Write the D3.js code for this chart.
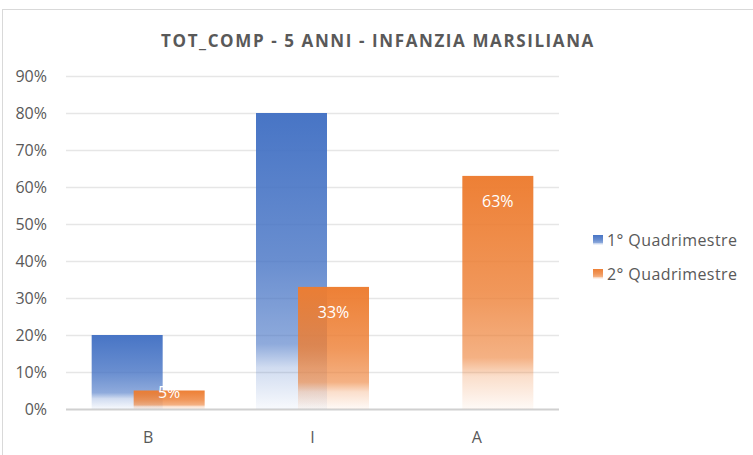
<!DOCTYPE html>
<html>
<head>
<meta charset="utf-8">
<script src="https://cdn.jsdelivr.net/npm/d3@7"></script>
<style>
  body { margin: 0; background: #fff; }
  text { font-family: "Open Sans", "Liberation Sans", sans-serif; fill: #595959; }
  .title { font-weight: bold; font-size: 17px; letter-spacing: 1.6px; }
  .tick-label { font-size: 16px; }
  .legend { font-size: 16px; letter-spacing: 0.4px; }
  .label { font-size: 16px; fill: #fff; }
</style>
</head>
<body>
<svg id="chart" width="753" height="455"></svg>
<script>
  const categories = ['B', 'I', 'A'];
  const seriesNames = ['1° Quadrimestre', '2° Quadrimestre'];
  const values1 = [0.20, 0.80, 0.00];
  const values2 = [0.05, 0.33, 0.63];
  const yTicks = [0, 0.1, 0.2, 0.3, 0.4, 0.5, 0.6, 0.7, 0.8, 0.9];
  const colors = ['#4472C4', '#ED7D31'];

  const svg = d3.select('#chart');
  const plotLeft = 66, plotRight = 559, plotTop = 76, plotBottom = 409;

  // chart frame
  svg.append('rect')
    .attr('x', 2.5).attr('y', 9.5)
    .attr('width', 780).attr('height', 480)
    .attr('fill', 'none').attr('stroke', '#d9d9d9');

  // gradients: solid at the top, fading out near the bottom
  const defs = svg.append('defs');
  colors.forEach((c, i) => {
    const g = defs.append('linearGradient')
      .attr('id', 'grad' + i)
      .attr('x1', 0).attr('y1', 0).attr('x2', 0).attr('y2', 1);
    [[0, 0.98], [0.5, 0.8], [0.78, 0.6], [0.86, 0.25], [1, 0.04]].forEach(([o, a]) => {
      g.append('stop').attr('offset', o).attr('stop-color', c).attr('stop-opacity', a);
    });
  });

  const x = d3.scaleBand().domain(categories).range([plotLeft, plotRight]);
  const y = d3.scaleLinear().domain([0, 0.9]).range([plotBottom, plotTop]);

  // gridlines
  svg.append('g').selectAll('line').data(yTicks).join('line')
    .attr('x1', plotLeft).attr('x2', plotRight)
    .attr('y1', d => Math.round(y(d)) + 0.5).attr('y2', d => Math.round(y(d)) + 0.5)
    .attr('stroke', d => d === 0 ? '#d0d0d0' : '#e6e6e6')
    .attr('stroke-width', d => d === 0 ? 2 : 1.5);

  // y tick labels
  svg.append('g').selectAll('text').data(yTicks).join('text')
    .attr('class', 'tick-label')
    .attr('x', 47).attr('y', d => y(d))
    .attr('dy', '0.35em').attr('text-anchor', 'end')
    .text(d3.format('.0%'));

  // x labels
  svg.append('g').selectAll('text').data(categories).join('text')
    .attr('class', 'tick-label')
    .attr('x', d => x(d) + x.bandwidth() / 2).attr('y', 437)
    .attr('dy', '0.35em').attr('text-anchor', 'middle')
    .text(d => d);

  const barW = 71, shift = 42;
  const series = [values1, values2];
  series.forEach((vals, si) => {
    svg.append('g').selectAll('rect').data(vals.map((v, i) => ({v, c: categories[i]})))
      .join('rect')
      .filter(d => d.v > 0)
      .attr('x', d => x(d.c) + x.bandwidth() / 2 - (barW + shift) / 2 + si * shift)
      .attr('y', d => y(d.v))
      .attr('width', barW)
      .attr('height', d => y(0) - y(d.v))
      .attr('fill', 'url(#grad' + si + ')');
  });

  // data labels (second series only), kept inside short bars
  svg.append('g').selectAll('text').data(values2.map((v, i) => ({v, c: categories[i]})))
    .join('text')
    .attr('class', 'label')
    .attr('x', d => x(d.c) + x.bandwidth() / 2 - (barW + shift) / 2 + shift + barW / 2)
    .attr('y', d => Math.min(y(d.v) + 25, y(0) - 17))
    .attr('dy', '0.35em').attr('text-anchor', 'middle')
    .text(d => d3.format('.0%')(d.v));

  // title
  svg.append('text').attr('class', 'title')
    .attr('x', 378).attr('y', 41).attr('dy', '0.35em')
    .attr('text-anchor', 'middle')
    .text('TOT_COMP - 5 ANNI - INFANZIA MARSILIANA');

  // legend
  const lg = svg.append('g').selectAll('g').data(seriesNames).join('g')
    .attr('transform', (d, i) => `translate(593, ${240 + i * 34})`);
  lg.append('rect').attr('x', 0).attr('y', -5).attr('width', 10).attr('height', 10)
    .attr('fill', (d, i) => 'url(#grad' + i + ')');
  lg.append('text').attr('class', 'legend')
    .attr('x', 14).attr('y', 0).attr('dy', '0.35em')
    .text(d => d);
</script>
</body>
</html>
